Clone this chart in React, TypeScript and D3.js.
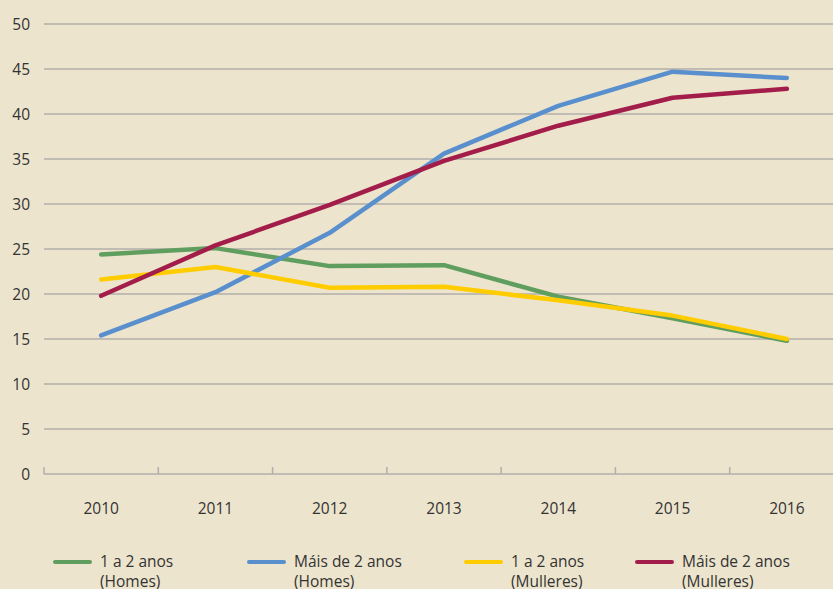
import React, { useEffect, useRef } from 'react';
import * as d3 from 'd3';

const years = ['2010', '2011', '2012', '2013', '2014', '2015', '2016'];
const homes1a2 = [24.4, 25.1, 23.1, 23.2, 19.7, 17.3, 14.8];
const homesMais2 = [15.4, 20.2, 26.8, 35.6, 40.9, 44.7, 44.0];
const mulleres1a2 = [21.6, 23.0, 20.7, 20.8, 19.3, 17.6, 15.0];
const mulleresMais2 = [19.8, 25.4, 29.9, 34.8, 38.7, 41.8, 42.8];
const yTicks = [0, 5, 10, 15, 20, 25, 30, 35, 40, 45, 50];

const series = [
  { line1: '1 a 2 anos', line2: '(Homes)', values: homes1a2, color: '#5f9e5e' },
  { line1: 'Máis de 2 anos', line2: '(Homes)', values: homesMais2, color: '#5a8fce' },
  { line1: '1 a 2 anos', line2: '(Mulleres)', values: mulleres1a2, color: '#ffcc00' },
  { line1: 'Máis de 2 anos', line2: '(Mulleres)', values: mulleresMais2, color: '#a21d4a' },
];

export default function App() {
  const ref = useRef<SVGSVGElement>(null);

  useEffect(() => {
    const W = 833, H = 589;
    const svg = d3.select(ref.current);
    svg.selectAll('*').remove();
    const font = '"Open Sans", "DejaVu Sans", sans-serif';
    const fs = 15.5;

    svg.append('rect').attr('width', W).attr('height', H).attr('fill', '#ede4cd');

    const x = d3.scaleBand().domain(years).range([44, 844]);
    const y = d3.scaleLinear().domain([0, 50]).range([474, 24]);

    // gridlines
    svg.append('g')
      .selectAll('line')
      .data(yTicks.filter(d => d > 0))
      .enter()
      .append('line')
      .attr('x1', 44).attr('x2', W)
      .attr('y1', d => y(d)).attr('y2', d => y(d))
      .attr('stroke', '#b1afab').attr('stroke-width', 1.5);

    // y labels
    svg.append('g')
      .selectAll('text')
      .data(yTicks)
      .enter()
      .append('text')
      .attr('x', 30).attr('y', d => y(d) + 5.5)
      .attr('text-anchor', 'end')
      .attr('font-family', font).attr('font-size', fs).attr('fill', '#333')
      .text(d => d);

    // x axis
    const ax = svg.append('g');
    ax.append('line')
      .attr('x1', 44).attr('x2', W).attr('y1', y(0)).attr('y2', y(0))
      .attr('stroke', '#b1afab').attr('stroke-width', 1.5);
    ax.selectAll('.tk')
      .data(years)
      .enter()
      .append('line')
      .attr('x1', d => x(d)!).attr('x2', d => x(d)!)
      .attr('y1', y(0) - 7).attr('y2', y(0))
      .attr('stroke', '#b1afab').attr('stroke-width', 1.5);
    ax.selectAll('text')
      .data(years)
      .enter()
      .append('text')
      .attr('x', d => x(d)! + x.bandwidth() / 2).attr('y', 514)
      .attr('text-anchor', 'middle')
      .attr('font-family', font).attr('font-size', fs).attr('fill', '#333')
      .text(d => d);

    const line = d3.line<number>()
      .x((_, i) => x(years[i])! + x.bandwidth() / 2)
      .y(d => y(d));

    series.forEach(s => {
      svg.append('path')
        .attr('d', line(s.values)!)
        .attr('fill', 'none')
        .attr('stroke', s.color)
        .attr('stroke-width', 4.5)
        .attr('stroke-linecap', 'round')
        .attr('stroke-linejoin', 'round');
    });

    // legend
    const legX = [55, 249, 466, 637];
    const leg = svg.append('g');
    series.forEach((s, i) => {
      const g = leg.append('g').attr('transform', `translate(${legX[i]},0)`);
      g.append('line')
        .attr('x1', 0).attr('x2', 35).attr('y1', 562).attr('y2', 562)
        .attr('stroke', s.color).attr('stroke-width', 4).attr('stroke-linecap', 'round');
      g.append('text')
        .attr('x', 45).attr('y', 567)
        .attr('font-family', font).attr('font-size', fs).attr('fill', '#333')
        .text(s.line1);
      g.append('text')
        .attr('x', 45).attr('y', 587)
        .attr('font-family', font).attr('font-size', fs).attr('fill', '#333')
        .text(s.line2);
    });
  }, []);

  return (
    <svg ref={ref} width={833} height={589} style={{ display: 'block', position: 'absolute', left: 0, top: 0 }} />
  );
}
